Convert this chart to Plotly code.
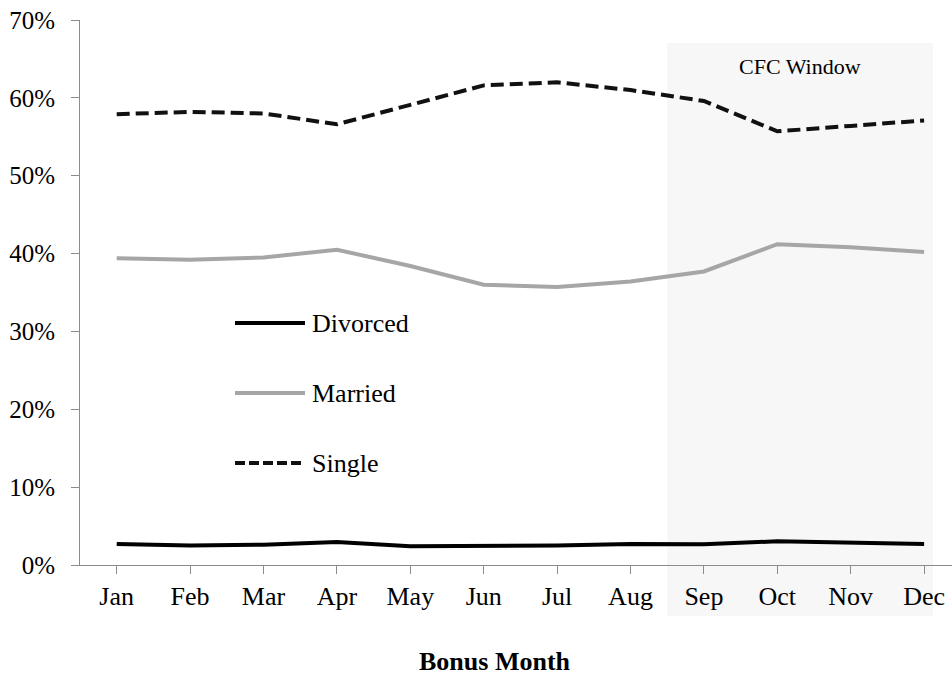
import plotly.graph_objects as go

months = ["Jan", "Feb", "Mar", "Apr", "May", "Jun", "Jul", "Aug", "Sep", "Oct", "Nov", "Dec"]
divorced = [2.7, 2.5, 2.6, 2.95, 2.4, 2.45, 2.5, 2.7, 2.65, 3.05, 2.9, 2.7]
married = [39.4, 39.2, 39.5, 40.5, 38.4, 36.0, 35.7, 36.4, 37.7, 41.2, 40.8, 40.2]
single = [57.9, 58.2, 58.0, 56.6, 59.1, 61.6, 62.0, 61.0, 59.6, 55.7, 56.4, 57.1]
y_ticks = [0, 10, 20, 30, 40, 50, 60, 70]
y_tick_labels = [f"{v}%" for v in y_ticks]

FONT = "Liberation Serif, Times New Roman, serif"
W, H = 952, 675
ML, MR, MT, MB = 80, 0, 20, 110
PW, PH = W - ML - MR, H - MT - MB

x_lo, x_hi = -0.5, 11.38
idx = list(range(len(months)))

def px2px(px):
    return (px - ML) / PW

def py2py(py):
    return (H - MB - py) / PH

def data2paper_x(v):
    return (v - x_lo) / (x_hi - x_lo)

series = [
    ("Divorced", divorced, dict(color="#000000", width=4)),
    ("Married", married, dict(color="#A6A6A6", width=4)),
    ("Single", single, dict(color="#111111", width=4, dash="13px,6px")),
]

fig = go.Figure()
for name, vals, line in series:
    fig.add_trace(go.Scatter(x=idx, y=vals, mode="lines", name=name, line=line,
                             showlegend=False, hoverinfo="x+y+name"))

shapes = []
# CFC window shading (Sep onward)
shapes.append(dict(type="rect", xref="paper", yref="paper",
                   x0=data2paper_x(7.5), x1=px2px(933), y0=py2py(616), y1=py2py(43),
                   fillcolor="#F7F7F7", line=dict(width=0), layer="below"))

annotations = [
    dict(text="CFC Window", xref="paper", yref="paper", x=px2px(800), y=py2py(67),
         xanchor="center", yanchor="middle", showarrow=False,
         font=dict(family=FONT, size=22, color="#000000")),
    dict(text="<b>Bonus Month</b>", xref="paper", yref="paper", x=px2px(495), y=py2py(661),
         xanchor="center", yanchor="middle", showarrow=False,
         font=dict(family=FONT, size=26, color="#000000")),
]

# custom legend
leg_y = [323, 393, 463]
for (name, vals, line), ly in zip(series, leg_y):
    shapes.append(dict(type="line", xref="paper", yref="paper",
                       x0=px2px(235), x1=px2px(305), y0=py2py(ly), y1=py2py(ly),
                       line=dict(color=line["color"], width=4,
                                 dash="10px,4px" if "dash" in line else "solid")))
    annotations.append(dict(text=name, xref="paper", yref="paper", x=px2px(310), y=py2py(ly),
                            xanchor="left", yanchor="middle", showarrow=False,
                            font=dict(family=FONT, size=26, color="#000000")))

fig.update_layout(
    width=W, height=H,
    margin=dict(l=ML, r=MR, t=MT, b=MB, pad=0),
    paper_bgcolor="white", plot_bgcolor="rgba(0,0,0,0)",
    font=dict(family=FONT, color="#000000"),
    shapes=shapes, annotations=annotations,
    showlegend=False,
)
fig.update_xaxes(
    range=[x_lo, x_hi], tickmode="array", tickvals=idx, ticktext=months,
    tickson="boundaries", ticks="outside", ticklen=8, tickcolor="#8C8C8C",
    showline=True, linecolor="#8C8C8C", linewidth=1, showgrid=False, zeroline=False,
    tickfont=dict(family=FONT, size=26, color="#000000"), ticklabelstandoff=0,
)
fig.update_yaxes(
    range=[0, 70], tickmode="array", tickvals=y_ticks, ticktext=y_tick_labels,
    ticks="outside", ticklen=8, tickcolor="#8C8C8C",
    showline=True, linecolor="#8C8C8C", linewidth=1, showgrid=False, zeroline=False,
    tickfont=dict(family=FONT, size=25, color="#000000"), ticklabelstandoff=11,
)

fig.write_html("out.html", config={"displayModeBar": False},
               post_script="document.body.style.margin='0';document.body.style.overflow='hidden';")
